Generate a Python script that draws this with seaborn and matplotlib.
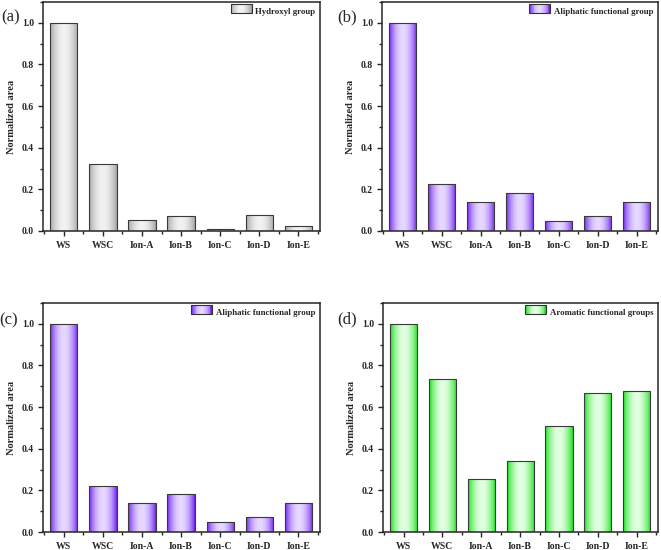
import numpy as np
import matplotlib
matplotlib.use("Agg")
import matplotlib.pyplot as plt
import seaborn as sns
from matplotlib import font_manager as fm
from matplotlib.colors import LinearSegmentedColormap
from matplotlib.patches import Rectangle
from matplotlib.legend_handler import HandlerBase
from matplotlib.ticker import MultipleLocator, FormatStrFormatter

# data
samples = ["WS", "WSC", "Ion-A", "Ion-B", "Ion-C", "Ion-D", "Ion-E"]
hydroxyl = [1.0, 0.32, 0.051, 0.070, 0.011, 0.075, 0.022]
aliphatic_b = [1.0, 0.224, 0.139, 0.183, 0.048, 0.072, 0.139]
aliphatic_c = [1.0, 0.223, 0.138, 0.182, 0.047, 0.071, 0.138]
aromatic = [1.0, 0.733, 0.254, 0.341, 0.511, 0.666, 0.678]

panel_labels = ["(a)", "(b)", "(c)", "(d)"]
legend_names = ["Hydroxyl group", "Aliphatic functional group",
                "Aliphatic functional group", "Aromatic functional groups"]

sns.set_style("ticks")
names = {f.name for f in fm.fontManager.ttflist}
serif = [n for n in ["Times New Roman", "Liberation Serif", "Nimbus Roman", "Tinos"] if n in names]
plt.rcParams["font.family"] = serif + ["DejaVu Serif"]

# gradient colours (edge, centre)
grad_cols = {
    "gray": ("#a0a0a0", "#f2f2f2"),
    "purple": ("#6a1cf0", "#e6d8ff"),
    "green": ("#10e010", "#e2ffe2"),
}


def make_cmap(edge, centre):
    return LinearSegmentedColormap.from_list("g", [edge, centre])


def profile(n=64):
    t = np.linspace(0, 1, n)
    return np.sin(np.pi * t) ** 0.8


class GradHandler(HandlerBase):
    def __init__(self, cmap, **kw):
        super().__init__(**kw)
        self.cmap = cmap

    def create_artists(self, legend, orig, xd, yd, width, height, fontsize, trans):
        arts = []
        n = 24
        vals = profile(n)
        for i in range(n):
            r = Rectangle((xd + width * i / n, yd), width / n + 0.3, height,
                          facecolor=self.cmap(vals[i]), edgecolor="none", transform=trans)
            arts.append(r)
        arts.append(Rectangle((xd, yd), width, height, facecolor="none",
                              edgecolor="#333333", linewidth=0.8, transform=trans))
        return arts


fig = plt.figure(figsize=(6.61, 5.5), dpi=100)
W, H = 661, 550
boxes = [(43, 320, 2, 231), (382, 658, 2, 231), (43, 320, 303, 532), (383, 658, 303, 532)]
label_pos = [(11, 17), (347, 17), (9, 320), (347, 319)]
series = [hydroxyl, aliphatic_b, aliphatic_c, aromatic]
colour_keys = ["gray", "purple", "purple", "green"]

for k in range(4):
    l, r, t, b = boxes[k]
    ax = fig.add_axes([l / W, (H - b) / H, (r - l) / W, (b - t) / H])
    edge, centre = grad_cols[colour_keys[k]]
    cmap = make_cmap(edge, centre)
    sns.barplot(x=samples, y=series[k], ax=ax, width=0.7, color=centre,
                edgecolor="#3a3a3a", linewidth=0.8)
    grad = profile(128)[np.newaxis, :]
    for p in list(ax.patches):
        x0, y0 = p.get_xy()
        w, h = p.get_width(), p.get_height()
        p.set_facecolor("none")
        p.set_zorder(3)
        im = ax.imshow(grad, extent=[x0, x0 + w, y0, y0 + h], aspect="auto",
                       cmap=cmap, vmin=0, vmax=1, zorder=2, interpolation="bilinear")
        im.set_clip_path(p)
    ax.set_aspect("auto")
    ax.set_xlim(-0.53, 6.55)
    ax.set_ylim(0, 1.1)

    ax.yaxis.set_major_locator(MultipleLocator(0.2))
    ax.yaxis.set_minor_locator(MultipleLocator(0.1))
    ax.yaxis.set_major_formatter(FormatStrFormatter("%.1f"))
    ax.xaxis.set_minor_locator(MultipleLocator(0.5))
    ax.tick_params(which="both", direction="out", top=False, right=False, width=1.0)
    ax.tick_params(which="major", length=3.5, labelsize=7, pad=3)
    ax.tick_params(axis="x", which="major", pad=4)
    ax.tick_params(which="minor", length=2)
    for lab in ax.get_xticklabels() + ax.get_yticklabels():
        lab.set_fontweight("bold")
    for s in ax.spines.values():
        s.set_linewidth(1.1)
        s.set_visible(True)
    ax.set_xlabel("")
    ax.set_ylabel("Normalized area", fontsize=7.5, fontweight="bold", labelpad=4)

    dummy = Rectangle((0, 0), 1, 1)
    ax.legend([dummy], [legend_names[k]], loc="upper right", frameon=False,
              handler_map={Rectangle: GradHandler(cmap)},
              prop={"weight": "bold", "size": 6.3}, handlelength=2.4, handleheight=1.2,
              borderaxespad=0.15, handletextpad=0.4)

    fig.text(label_pos[k][0] / W, 1 - label_pos[k][1] / H, panel_labels[k],
             fontsize=12, ha="center", va="center")

fig.savefig("out.png", dpi=100)
